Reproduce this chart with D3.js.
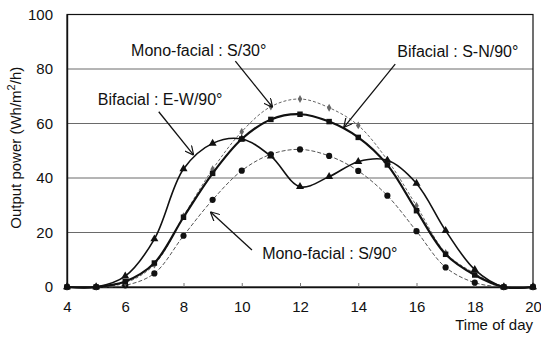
<!DOCTYPE html>
<html>
<head>
<meta charset="utf-8">
<script src="https://cdn.jsdelivr.net/npm/d3@7"></script>
<style>
  body { margin: 0; background: #fff; }
  text { font-family: "Liberation Sans", Arial, sans-serif; fill: #111; }
</style>
</head>
<body>
<div id="chart"></div>
<script>
// hours of the day (one point per hour)
const hours = [4, 5, 6, 7, 8, 9, 10, 11, 12, 13, 14, 15, 16, 17, 18, 19, 20];

// output power, Wh/m2/h
const ewValues  = [0, 0, 4.0, 17.6, 43.3, 52.7, 54.3, 48.0, 36.8, 40.5, 46.0, 46.5, 38.0, 20.7, 6.4, 0, 0];
const snValues  = [0, 0, 2.0, 8.8, 25.6, 41.7, 54.3, 61.5, 63.4, 60.7, 54.9, 44.8, 28.0, 12.0, 4.4, 0, 0];
const s30Values = [0, 0, 1.5, 8.2, 26.0, 43.2, 57.0, 66.2, 69.0, 65.8, 59.3, 46.6, 29.8, 12.5, 5.0, 0, 0];
const s90Values = [0, 0, 0.6, 5.0, 18.8, 32.0, 42.7, 48.7, 50.5, 48.1, 42.6, 33.5, 20.5, 7.2, 1.6, 0, 0];

const xTickValues = [4, 6, 8, 10, 12, 14, 16, 18, 20];
const yTickValues = [0, 20, 40, 60, 80, 100];

const params = {
  width: 541, height: 344,
  margin: { left: 67, right: 8, top: 14.5, bottom: 57 }
};

function build_series() {
  return [
    { key: "s90", values: s90Values, marker: "circle",   color: "#555", width: 1,   dash: "4,2", size: 30, fill: "#111" },
    { key: "s30", values: s30Values, marker: "diamond",  color: "#666", width: 1,   dash: "3,2", size: 18, fill: "#666" },
    { key: "ew",  values: ewValues,  marker: "triangle", color: "#111", width: 1.6, dash: null,  size: 28, fill: "#111" },
    { key: "sn",  values: snValues,  marker: "square",   color: "#111", width: 2.2, dash: null,  size: 30, fill: "#111" }
  ];
}

// annotation texts, placed in data units: [hour, value] for text and arrow ends
const notes = [
  { text: "Mono-facial : S/30°", at: [6.2, 84.8],  from: [9.78, 82.9], to: [11.06, 65.9] },
  { text: "Bifacial : S-N/90°",  at: [15.34, 84.4], from: [15.27, 81.8], to: [13.5, 58.5] },
  { text: "Bifacial : E-W/90°",  at: [5.06, 66.8], from: [7.15, 64.3], to: [8.35, 48.4] },
  { text: "Mono-facial : S/90°", at: [10.7, 10.3], from: [10.35, 13.6], to: [8.92, 27.6] }
];

function plot_all() {
  const m = params.margin;
  const w = params.width - m.left - m.right;
  const h = params.height - m.top - m.bottom;

  const svg = d3.select("#chart").append("svg")
      .attr("width", params.width)
      .attr("height", params.height);

  const defs = svg.append("defs");
  defs.append("marker")
      .attr("id", "arrow")
      .attr("viewBox", "0 0 10 10")
      .attr("refX", 10).attr("refY", 5)
      .attr("markerWidth", 9).attr("markerHeight", 9)
      .attr("markerUnits", "userSpaceOnUse")
      .attr("orient", "auto")
    .append("path")
      .attr("d", "M0,0 L10,5 L0,10")
      .attr("fill", "none")
      .attr("stroke", "#111")
      .attr("stroke-width", 1.3);

  const g = svg.append("g").attr("transform", `translate(${m.left},${m.top})`);

  const x = d3.scaleLinear().domain([4, 20]).range([0, w]);
  const y = d3.scaleLinear().domain([0, 100]).range([h, 0]);

  // gridlines
  g.selectAll(".grid")
    .data(yTickValues.filter(v => v > 0 && v < 100))
    .join("line")
      .attr("x1", 0).attr("x2", w)
      .attr("y1", d => y(d)).attr("y2", d => y(d))
      .attr("stroke", "#6a6a6a")
      .attr("stroke-width", 1);

  // frame
  g.append("rect")
      .attr("width", w).attr("height", h)
      .attr("fill", "none")
      .attr("stroke", "#111")
      .attr("stroke-width", 1.2);

  // x axis
  const xAxis = g.append("g")
      .attr("transform", `translate(0,${h})`)
      .call(d3.axisBottom(x).tickValues(xTickValues).tickSize(-4).tickPadding(14));
  xAxis.select(".domain").attr("stroke", "#111").attr("stroke-width", 1.6);
  xAxis.selectAll(".tick line").attr("stroke", "#777");
  xAxis.selectAll("text").attr("font-size", 15).attr("fill", "#111");

  // y axis
  const yAxis = g.append("g")
      .call(d3.axisLeft(y).tickValues(yTickValues).tickSize(0).tickPadding(14));
  yAxis.select(".domain").attr("stroke", "#111").attr("stroke-width", 1.4);
  yAxis.selectAll("text").attr("font-size", 15).attr("fill", "#111");

  // axis titles
  svg.append("text")
      .attr("transform", `translate(21,${m.top + h / 2 - 3}) rotate(-90)`)
      .attr("text-anchor", "middle")
      .attr("font-size", 15)
      .html('Output power (Wh/m<tspan dy="-6" font-size="11">2</tspan><tspan dy="6">/h)</tspan>');

  svg.append("text")
      .attr("x", m.left + w)
      .attr("y", 330)
      .attr("text-anchor", "end")
      .attr("font-size", 15)
      .text("Time of day");

  add_series(g, x, y);
  add_notes(g, x, y);
}

function add_series(g, x, y) {
  const line = d3.line()
      .x((d, i) => x(hours[i]))
      .y(d => y(d))
      .curve(d3.curveCatmullRom.alpha(0.5));

  const symbols = {
    circle: d3.symbolCircle,
    diamond: d3.symbolDiamond,
    triangle: d3.symbolTriangle,
    square: d3.symbolSquare
  };

  build_series().forEach(s => {
    g.append("path")
        .datum(s.values)
        .attr("d", line)
        .attr("fill", "none")
        .attr("stroke", s.color)
        .attr("stroke-width", s.width)
        .attr("stroke-dasharray", s.dash);

    g.selectAll(".pt-" + s.key)
      .data(s.values)
      .join("path")
        .attr("class", "pt-" + s.key)
        .attr("transform", (d, i) => `translate(${x(hours[i])},${y(d)})`)
        .attr("d", d3.symbol().type(symbols[s.marker]).size(s.size))
        .attr("fill", s.fill);
  });
}

function add_notes(g, x, y) {
  notes.forEach(n => {
    g.append("text")
        .attr("x", x(n.at[0]))
        .attr("y", y(n.at[1]))
        .attr("font-size", 16)
        .text(n.text);

    g.append("line")
        .attr("x1", x(n.from[0])).attr("y1", y(n.from[1]))
        .attr("x2", x(n.to[0])).attr("y2", y(n.to[1]))
        .attr("stroke", "#111")
        .attr("stroke-width", 1.3)
        .attr("marker-end", "url(#arrow)");
  });
}

plot_all();
</script>
</body>
</html>
